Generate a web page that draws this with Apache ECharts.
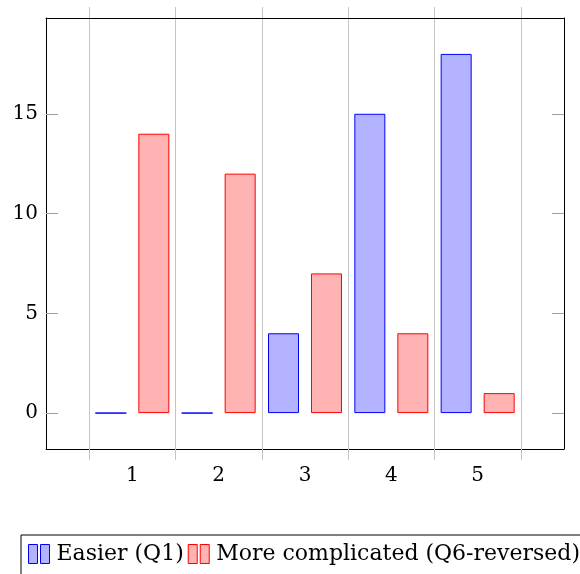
<!DOCTYPE html>
<html>
<head>
<meta charset="utf-8">
<script src="https://cdn.jsdelivr.net/npm/echarts@6/dist/echarts.min.js"></script>
<style>
  html, body { margin: 0; padding: 0; background: #fff; }
  #chart { width: 580px; height: 574px; }
</style>
</head>
<body>
<div id="chart"></div>
<script>
// Survey answers per rating (1–5)
const categories = [1, 2, 3, 4, 5];
const easierQ1 = [0, 0, 4, 15, 18];
const complicatedQ6 = [14, 12, 7, 4, 1];
const yTickValues = [0, 5, 10, 15];
const seriesNames = ['Easier (Q1)', 'More complicated (Q6-reversed)'];

const FONT = 'DejaVu Serif';
const chart = echarts.init(document.getElementById('chart'), null, { renderer: 'canvas' });

const toPoints = vals => categories.map((c, i) => [c, vals[i]]);
const gridGray = '#c4c4c4';
const tickGray = '#a0a0a0';

// legend glyph: two small bars side by side
const barIcon = 'path://M0,0 L9,0 L9,19 L0,19 Z M12,0 L21,0 L21,19 L12,19 Z';

chart.setOption({
  animation: false,
  backgroundColor: '#fff',
  grid: { left: 46, right: 16, top: 18, bottom: 125, containLabel: false },
  xAxis: [
    {
      type: 'value', position: 'bottom', min: 0, max: 6, interval: 1,
      axisLine: { show: true, onZero: false, lineStyle: { color: '#000', width: 1 } },
      axisTick: { show: false },
      minorTick: { show: true, splitNumber: 2, length: 11, lineStyle: { color: gridGray, width: 1 } },
      minorSplitLine: { show: true, lineStyle: { color: gridGray, width: 1 } },
      splitLine: { show: false },
      axisLabel: {
        margin: 17, color: '#000', fontFamily: FONT, fontSize: 20,
        formatter: v => (categories.indexOf(v) >= 0 ? String(v) : '')
      }
    },
    {
      type: 'value', position: 'top', min: 0, max: 6, interval: 1,
      axisLine: { show: true, onZero: false, lineStyle: { color: '#000', width: 1 } },
      axisTick: { show: false },
      minorTick: { show: true, splitNumber: 2, length: 11, lineStyle: { color: gridGray, width: 1 } },
      splitLine: { show: false },
      axisLabel: { show: false }
    }
  ],
  yAxis: [
    {
      type: 'value', position: 'left', min: -1.8, max: 19.8,
      axisLine: { show: true, onZero: false, lineStyle: { color: '#000', width: 1 } },
      axisTick: { show: true, inside: true, length: 12, customValues: yTickValues, lineStyle: { color: tickGray, width: 1 } },
      splitLine: { show: false },
      axisLabel: { margin: 8, color: '#000', fontFamily: FONT, fontSize: 20, customValues: yTickValues }
    },
    {
      type: 'value', position: 'right', min: -1.8, max: 19.8,
      axisLine: { show: true, onZero: false, lineStyle: { color: '#000', width: 1 } },
      axisTick: { show: true, inside: true, length: 12, customValues: yTickValues, lineStyle: { color: tickGray, width: 1 } },
      splitLine: { show: false },
      axisLabel: { show: false }
    }
  ],
  legend: {
    left: 21, top: 535, width: 700,
    orient: 'horizontal',
    padding: [8, 10, 22, 7],
    borderColor: '#000', borderWidth: 1,
    itemWidth: 23, itemHeight: 19, itemGap: 4,
    icon: barIcon,
    itemStyle: { borderWidth: 1 },
    textStyle: { fontFamily: FONT, fontSize: 22, color: '#000', padding: [0, 0, 0, 1] },
    data: seriesNames
  },
  series: [
    {
      name: seriesNames[0], type: 'bar', xAxisIndex: 0, yAxisIndex: 0,
      barWidth: 31, barGap: '38.7%',
      itemStyle: { color: '#b3b3ff', borderColor: '#0000ff', borderWidth: 1 },
      data: toPoints(easierQ1)
    },
    {
      name: seriesNames[1], type: 'bar', xAxisIndex: 0, yAxisIndex: 0,
      barWidth: 31, barGap: '38.7%',
      itemStyle: { color: '#ffb3b3', borderColor: '#ff0000', borderWidth: 1 },
      data: toPoints(complicatedQ6)
    }
  ]
});
</script>
</body>
</html>
